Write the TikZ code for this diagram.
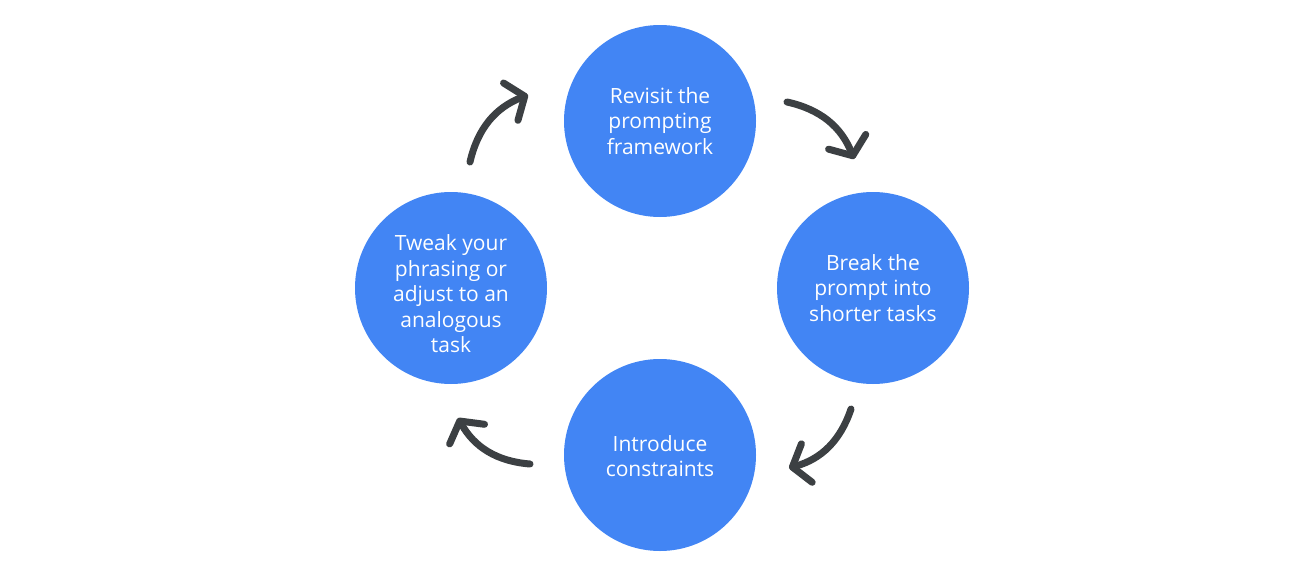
\documentclass[tikz,border=0pt]{standalone}
\usepackage{fontspec}
\setmainfont{Open Sans}
\usetikzlibrary{arrows.meta}
\definecolor{gblue}{HTML}{4285F4}
\definecolor{gdark}{HTML}{3C4043}
\begin{document}
\begin{tikzpicture}[x=1pt,y=-1pt,
  stepcircle/.style={circle,fill=gblue,minimum size=192pt,inner sep=0pt},
  steptext/.style={text=white,align=center,inner sep=0pt,
    font=\fontsize{21}{25.5}\selectfont},
  cyclearrow/.style={draw=gdark,line width=7pt,line cap=round,line join=round,
    -{Straight Barb[length=15pt,width=40pt,line cap=round,line join=round]}}]
\useasboundingbox (0,0) rectangle (1302,576);
\node[stepcircle] (top) at (660,121) {};
\node[stepcircle] (right) at (873,288) {};
\node[stepcircle] (bottom) at (660,455) {};
\node[stepcircle] (left) at (451,288) {};
\node[steptext] (toptext) at (top) {Revisit the\\prompting\\framework};
\node[steptext] (righttext) at (right) {Break the\\prompt into\\shorter tasks};
\node[steptext] (bottomtext) at ([yshift=-1pt]bottom) {Introduce\\constraints};
\node[steptext] (lefttext) at ([yshift=-6pt]left) {Tweak your\\phrasing or\\adjust to an\\analogous\\task};
\coordinate (a1s) at (470,162);
\coordinate (a1e) at (528,95);
\coordinate (a2s) at (787,102);
\coordinate (a2e) at (854,159);
\coordinate (a3s) at (851,409);
\coordinate (a3e) at (789,468);
\coordinate (a4s) at (530,464);
\coordinate (a4e) at (458,418);
\draw[cyclearrow] (a1s) to[bend left=28] (a1e);
\draw[cyclearrow] (a2s) to[bend left=28] (a2e);
\draw[cyclearrow] (a3s) to[bend left=28] (a3e);
\draw[cyclearrow] (a4s) to[bend left=28] (a4e);
\end{tikzpicture}
\end{document}
